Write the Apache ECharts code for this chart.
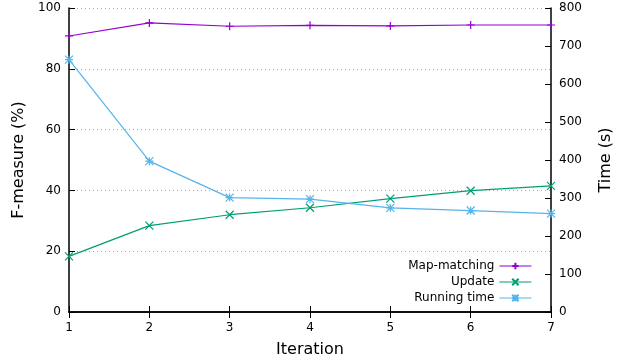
<!DOCTYPE html>
<html>
<head>
<meta charset="utf-8">
<script src="https://cdn.jsdelivr.net/npm/echarts@6/dist/echarts.min.js"></script>
<style>
html,body{margin:0;padding:0;background:#fff;}
#main{width:627px;height:363px;}
</style>
</head>
<body>
<div id="main"></div>
<script>
var iterations = ['1','2','3','4','5','6','7'];
var mapMatching = [90.8, 95.1, 94.0, 94.3, 94.1, 94.4, 94.4];
var update = [18.3, 28.4, 32.0, 34.3, 37.3, 39.9, 41.5];
var runningTime = [664, 397, 301, 297, 274, 267, 259];

var font = 'DejaVu Sans';
var plusPath = 'path://M0,5L10,5M5,0L5,10';
var crossPath = 'path://M0,0L10,10M10,0L0,10';
var starPath = 'path://M0,0L10,10M10,0L0,10M0,5L10,5M5,0L5,10';

var mkSeries = function(name, data, color, symbol, yIdx){
	return {
		name: name,
		type: 'line',
		yAxisIndex: yIdx,
		data: data,
		symbol: symbol,
		symbolSize: 8,
		showAllSymbol: true,
		lineStyle: {color: color, width: 1.2},
		itemStyle: {color: 'none', borderColor: color, borderWidth: 1.2},
		emphasis: {disabled: true},
		animation: false
	};
};

var myChart = echarts.init(document.getElementById('main'));
var option = {
	textStyle: {fontFamily: font},
	grid: {left: 69, right: 76, top: 8, bottom: 49},
	legend: {
		data: ['Map-matching', 'Update', 'Running time'],
		orient: 'vertical',
		right: 90,
		bottom: 54,
		align: 'right',
		itemWidth: 32,
		itemHeight: 8,
		itemGap: 4,
		selectedMode: false,
		lineStyle: {width: 1.2},
		textStyle: {fontFamily: font, fontSize: 12, color: '#000'}
	},
	xAxis: [
		{
			type: 'category',
			data: iterations,
			boundaryGap: false,
			name: 'Iteration',
			nameLocation: 'middle',
			nameGap: 30,
			nameTextStyle: {fontSize: 16, color: '#000'},
			axisLine: {lineStyle: {color: '#000', width: 1.5}},
			axisTick: {inside: true, length: 6, lineStyle: {color: '#000'}},
			axisLabel: {color: '#000', fontSize: 12, margin: 10},
			splitLine: {show: false}
		},
		{
			type: 'category',
			data: iterations,
			boundaryGap: false,
			position: 'top',
			axisLine: {lineStyle: {color: '#000', width: 1.5}},
			axisTick: {inside: true, length: 6, lineStyle: {color: '#000'}},
			axisLabel: {show: false},
			splitLine: {show: false}
		}
	],
	yAxis: [
		{
			type: 'value',
			min: 0, max: 100, interval: 20,
			name: 'F-measure (%)',
			nameLocation: 'middle',
			nameGap: 38,
			nameTextStyle: {fontSize: 16, color: '#000'},
			axisLine: {show: true, lineStyle: {color: '#000', width: 1.5}},
			axisTick: {show: true, inside: true, length: 6, lineStyle: {color: '#000'}},
			axisLabel: {color: '#000', fontSize: 12, margin: 8},
			splitLine: {show: true, lineStyle: {color: '#aaa', type: [1, 3], width: 1}}
		},
		{
			type: 'value',
			min: 0, max: 800, interval: 100,
			name: 'Time (s)',
			nameLocation: 'middle',
			nameGap: 47,
			nameTextStyle: {fontSize: 16, color: '#000'},
			axisLine: {show: true, lineStyle: {color: '#000', width: 1.5}},
			axisTick: {show: true, inside: true, length: 6, lineStyle: {color: '#000'}},
			axisLabel: {color: '#000', fontSize: 12, margin: 8},
			splitLine: {show: false}
		}
	],
	series: [
		mkSeries('Map-matching', mapMatching, '#9400D3', plusPath, 0),
		mkSeries('Update', update, '#009E73', crossPath, 0),
		mkSeries('Running time', runningTime, '#56B4E9', starPath, 1)
	]
};
myChart.setOption(option);
window.onresize = function(){
	myChart.resize();
};
</script>
</body>
</html>
